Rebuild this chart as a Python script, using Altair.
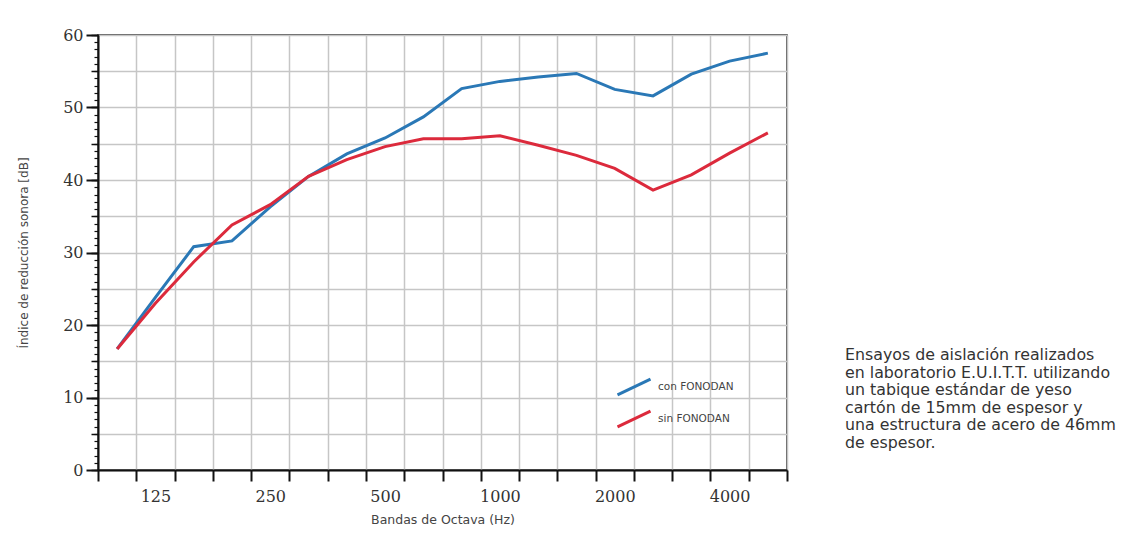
import altair as alt
import pandas as pd

bands = ["100", "125", "160", "200", "250", "315", "400", "500", "630", "800",
         "1000", "1250", "1600", "2000", "2500", "3150", "4000", "5000"]
con_fonodan = [16.7, 23.8, 30.8, 31.6, 36.3, 40.5, 43.6, 45.8, 48.7, 52.6,
               53.6, 54.2, 54.7, 52.5, 51.6, 54.6, 56.4, 57.5]
sin_fonodan = [16.7, 23.0, 28.7, 33.8, 36.6, 40.5, 42.8, 44.6, 45.7, 45.7,
               46.1, 44.8, 43.4, 41.6, 38.6, 40.7, 43.7, 46.5]
series_names = ["con FONODAN", "sin FONODAN"]
series_colors = ["#2a78b6", "#dc2a3c"]
shown_labels = ["125", "250", "500", "1000", "2000", "4000"]
major_ticks = [0, 10, 20, 30, 40, 50, 60]
grid_ticks = list(range(0, 61, 5))
minor_ticks = list(range(0, 61, 1))
note_lines = [
    "Ensayos de aislación realizados",
    "en laboratorio E.U.I.T.T. utilizando",
    "un tabique estándar de yeso",
    "cartón de 15mm de espesor y",
    "una estructura de acero de 46mm",
    "de espesor.",
]

rows = []
for b, c, s in zip(bands, con_fonodan, sin_fonodan):
    rows.append({"band": b, "serie": series_names[0], "v": c})
    rows.append({"band": b, "serie": series_names[1], "v": s})
df = pd.DataFrame(rows)

W, H = 689, 435
xscale = alt.Scale(domain=bands, paddingInner=0, paddingOuter=0)
yscale = alt.Scale(domain=[0, 60], nice=False)

label_list = "[" + ",".join("'%s'" % l for l in shown_labels) + "]"

x_axis = alt.Axis(
    tickBand="extent", grid=True, gridColor="#c6c6c6", gridWidth=1.5,
    tickColor="#111", tickSize=11, tickWidth=2,
    domainColor="#111", domainWidth=2,
    labelExpr="indexof(" + label_list + ", datum.label) >= 0 ? datum.label : ''",
    labelFont="DejaVu Serif", labelFontSize=16, labelColor="#333",
    labelPadding=7, labelAngle=0,
    title="Bandas de Octava (Hz)", titleFont="DejaVu Sans",
    titleFontSize=12.5, titleFontWeight="normal", titleColor="#444",
    titlePadding=9,
)


def xenc():
    return alt.X("band:N", sort=bands, scale=xscale, axis=x_axis)


grid_layer = alt.Chart(df).mark_line(strokeOpacity=0).encode(
    x=xenc(),
    y=alt.Y("v:Q", scale=yscale, axis=alt.Axis(
        orient="left", values=grid_ticks, grid=True, gridColor="#c6c6c6",
        gridWidth=1.5, tickColor="#111", tickSize=7, tickWidth=1.5,
        labels=False, domain=False, title="",
    )),
    detail="serie:N",
)

minor_layer = alt.Chart(df).mark_line(strokeOpacity=0).encode(
    x=xenc(),
    y=alt.Y("v:Q", scale=yscale, axis=alt.Axis(
        orient="left", values=minor_ticks, grid=False,
        tickColor="#111", tickSize=4, tickWidth=1.2,
        labels=False, domain=False, title="",
    )),
    detail="serie:N",
)

lines = alt.Chart(df).mark_line(strokeWidth=3).encode(
    x=xenc(),
    y=alt.Y("v:Q", scale=yscale, axis=alt.Axis(
        orient="left", values=major_ticks, grid=False,
        tickColor="#111", tickSize=12, tickWidth=2,
        domainColor="#111", domainWidth=2,
        labelFont="DejaVu Serif", labelFontSize=16, labelColor="#333",
        labelPadding=3,
        title="Índice de reducción sonora [dB]", titleFont="DejaVu Sans",
        titleFontSize=12, titleFontWeight="normal", titleColor="#444",
        titlePadding=32,
    )),
    color=alt.Color("serie:N", scale=alt.Scale(domain=series_names, range=series_colors),
                    legend=alt.Legend(
                        orient="none", legendX=518, legendY=334, title="",
                        symbolType="M-1,0.48L1,-0.48", symbolSize=1089,
                        symbolStrokeWidth=3, labelFont="DejaVu Sans",
                        labelFontSize=10.5, labelColor="#444", labelOffset=6,
                        rowPadding=-4,
                    )),
    detail="serie:N",
)

note = alt.Chart(pd.DataFrame({"t": ["\n".join(note_lines)]})).mark_text(
    align="left", baseline="top", lineBreak="\n", lineHeight=17.5,
    font="DejaVu Sans", fontSize=15.8, color="#333",
).encode(text="t:N", x=alt.value(747), y=alt.value(313))

chart = alt.layer(grid_layer, minor_layer, lines, note).resolve_axis(
    y="independent"
).properties(
    width=W, height=H,
    autosize=alt.AutoSizeParams(type="none"),
    padding={"left": 90, "top": 27, "right": 340, "bottom": 58},
    background="white",
).configure_view(stroke="#222", strokeWidth=1.5)

chart.save("out.html", embed_options={"renderer": "svg", "actions": False})
